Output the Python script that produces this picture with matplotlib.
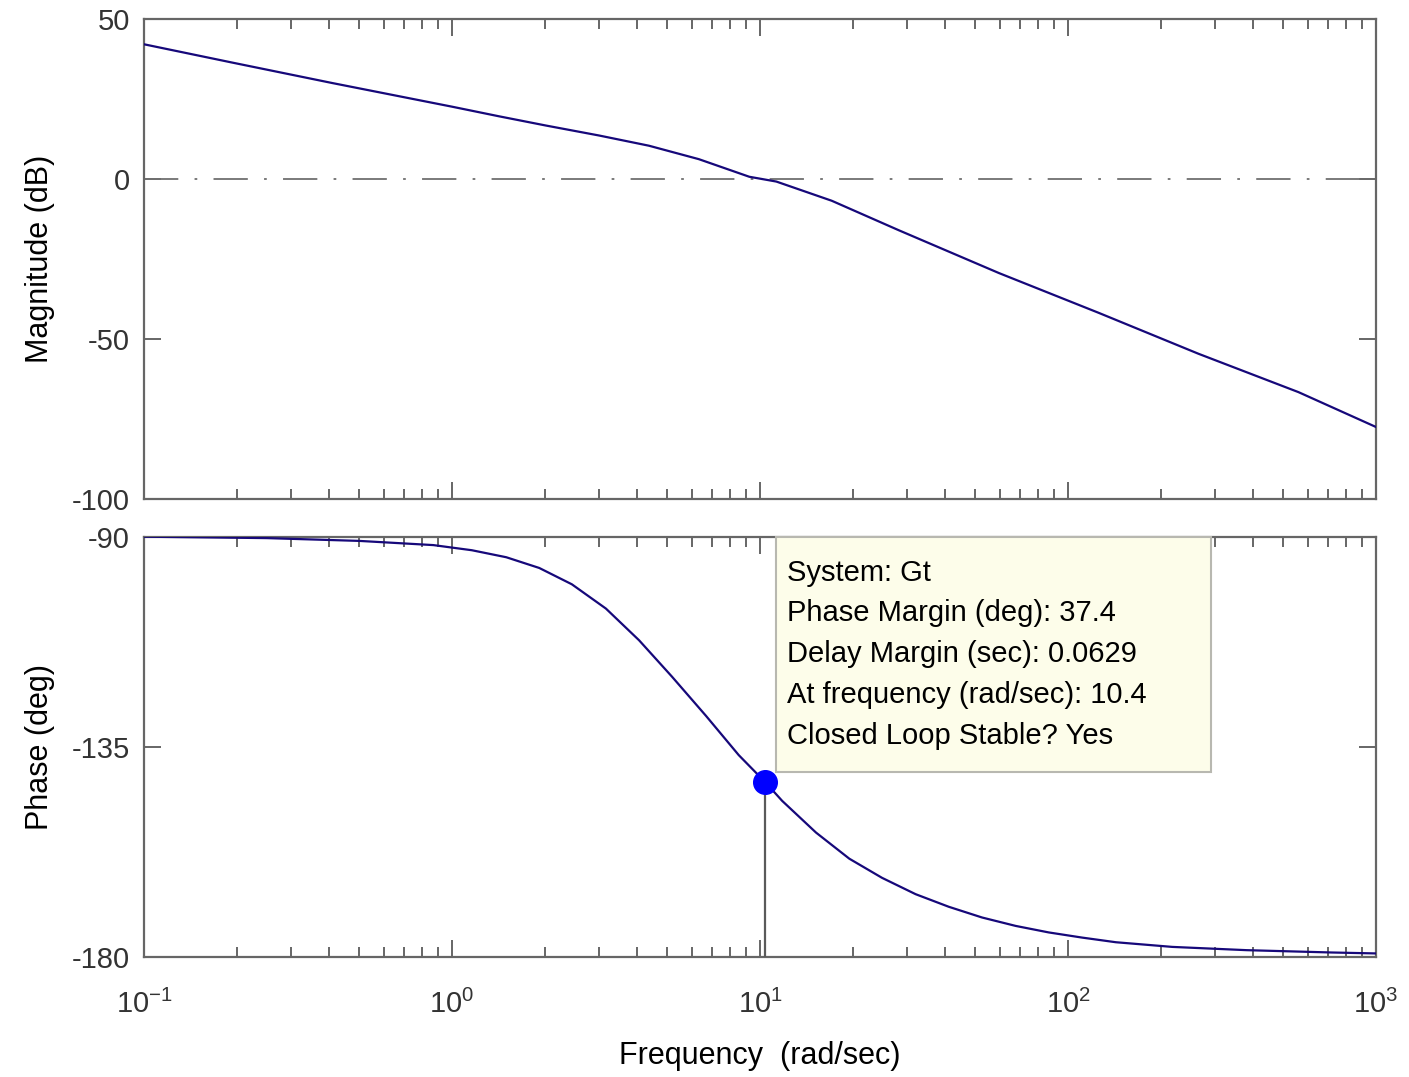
import numpy as np
import matplotlib
matplotlib.use("Agg")
import matplotlib.pyplot as plt
from matplotlib.ticker import LogLocator, FixedLocator, NullFormatter

plt.rcParams['font.family'] = ['Liberation Sans', 'DejaVu Sans']
plt.rcParams['axes.unicode_minus'] = False

# ---- data ----
mag_freq = [0.1, 0.193, 0.408, 1.0, 1.42, 2.02, 3.0, 4.36, 6.33, 9.23, 11.3,
            17.1, 28.2, 59.7, 125.6, 265, 560, 1000]
mag_db = [42.1, 36.4, 30.0, 22.6, 19.6, 16.7, 13.6, 10.4, 6.2, 0.7, -0.8,
          -6.8, -16.0, -29.4, -41.8, -54.6, -66.6, -77.5]

phase_freq = [0.1, 0.25, 0.5, 0.87, 1.16, 1.5, 1.92, 2.45, 3.16, 4.05, 5.18,
              6.68, 8.53, 10.4, 11.8, 15.2, 19.5, 24.9, 32, 41, 52.6, 67.6,
              86.6, 111, 143, 218, 380, 720, 1000]
phase_deg = [-90, -90.3, -90.9, -91.8, -92.9, -94.4, -96.7, -100.2, -105.4,
             -112.2, -120.0, -128.4, -136.8, -142.6, -146.6, -153.4, -159.0,
             -163.1, -166.6, -169.3, -171.6, -173.4, -174.8, -175.9, -176.9,
             -177.9, -178.6, -179.1, -179.3]

pm_freq = 10.4
pm_phase = -142.6
tip_lines = ["System: Gt",
             "Phase Margin (deg): 37.4",
             "Delay Margin (sec): 0.0629",
             "At frequency (rad/sec): 10.4",
             "Closed Loop Stable? Yes"]

mag_ticks = [-100, -50, 0, 50]
phase_ticks = [-180, -135, -90]
xlim = (0.1, 1000)

# ---- styling ----
W, H = 1409, 1077
fig = plt.figure(figsize=(W / 100, H / 100), dpi=100)
line_col = '#16087a'
axis_col = '#666666'
tick_fs = 21
label_fs = 22

ax1 = fig.add_axes([144 / W, 1 - 499 / H, (1376 - 144) / W, (499 - 19) / H])
ax2 = fig.add_axes([144 / W, 1 - 956.7 / H, (1376 - 144) / W, (956.7 - 536.7) / H])

dashdot = (0, (19, 9, 1.5, 9))

for ax in (ax1, ax2):
    ax.set_xscale('log')
    ax.set_xlim(*xlim)
    for s in ax.spines.values():
        s.set_color(axis_col)
        s.set_linewidth(1.6)
    ax.xaxis.set_major_locator(LogLocator(base=10, numticks=10))
    ax.xaxis.set_minor_locator(LogLocator(base=10, subs=np.arange(2, 10), numticks=20))
    ax.xaxis.set_minor_formatter(NullFormatter())
    ax.tick_params(which='both', direction='in', top=True, right=True,
                   color=axis_col, width=1.4, labelcolor='#333333',
                   labelsize=tick_fs)
    ax.tick_params(which='major', length=12)
    ax.tick_params(which='minor', length=7)
    ax.tick_params(axis='y', pad=10)

# magnitude
ax1.plot(mag_freq, mag_db, color=line_col, lw=1.6, zorder=3)
ax1.axhline(0, color='#707070', lw=1.3, linestyle=dashdot, zorder=2)
ax1.set_ylim(mag_ticks[0], mag_ticks[-1])
ax1.yaxis.set_major_locator(FixedLocator(mag_ticks))
ax1.tick_params(axis='x', labelbottom=False)
ax1.set_ylabel('Magnitude (dB)', fontsize=label_fs, labelpad=12)

# phase
ax2.plot(phase_freq, phase_deg, color=line_col, lw=1.6, zorder=3)
ax2.axhline(-180, color='#707070', lw=1.3, linestyle=dashdot, zorder=2)
ax2.set_ylim(phase_ticks[0], phase_ticks[-1])
ax2.yaxis.set_major_locator(FixedLocator(phase_ticks))
ax2.tick_params(axis='x', pad=24)
ax2.set_ylabel('Phase (deg)', fontsize=label_fs, labelpad=12)
ax2.set_xlabel('Frequency  (rad/sec)', fontsize=label_fs, labelpad=16)

# phase margin marker + stem
ax2.plot([pm_freq, pm_freq], [phase_ticks[0], pm_phase], color='#5a5a5a', lw=1.6, zorder=4)
ax2.plot([pm_freq], [pm_phase], 'o', color='#0000ff', markersize=17, zorder=5)

# data tip box
bx0, bx1 = (776 - 144) / 1232, (1211 - 144) / 1232
by0, by1 = 1 - (772 - 536.7) / 420, 1.0
rect = plt.Rectangle((bx0, by0), bx1 - bx0, by1 - by0, transform=ax2.transAxes,
                     facecolor='#fdfdea', edgecolor='#b8b8b0', lw=1.5, zorder=6,
                     clip_on=False)
ax2.add_patch(rect)
line_y = [573, 613, 654, 695, 736]
for t, yy in zip(tip_lines, line_y):
    ax2.text((787 - 144) / 1232, 1 - (yy - 536.7) / 420, t, transform=ax2.transAxes,
             fontsize=21, color='black', va='center', ha='left', zorder=7)

fig.savefig('out.png', dpi=100)
